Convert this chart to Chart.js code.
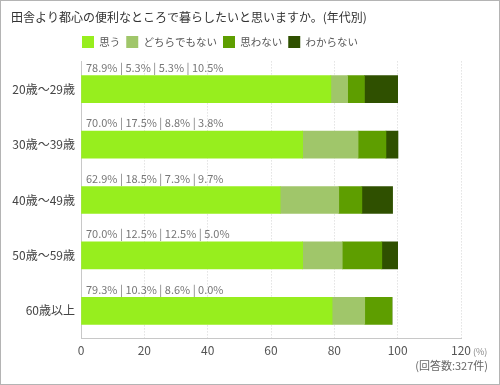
<!DOCTYPE html>
<html>
<head>
<meta charset="utf-8">
<script src="https://cdn.jsdelivr.net/npm/chart.js@4.4.0/dist/chart.umd.min.js"></script>
<style>
  html, body { margin: 0; padding: 0; background: #fff; }
</style>
</head>
<body>
<canvas id="chart" width="500" height="385"></canvas>
<script>
var categories = ['20歳〜29歳', '30歳〜39歳', '40歳〜49歳', '50歳〜59歳', '60歳以上'];
var seriesNames = ['思う', 'どちらでもない', '思わない', 'わからない'];
var omou = [78.9, 70.0, 62.9, 70.0, 79.3];
var dochira = [5.3, 17.5, 18.5, 12.5, 10.3];
var omowanai = [5.3, 8.8, 7.3, 12.5, 8.6];
var wakaranai = [10.5, 3.8, 9.7, 5.0, 0.0];
var xTicks = [0, 20, 40, 60, 80, 100, 120];

var FONT = "'Noto Sans CJK JP', 'Noto Sans', sans-serif";
var colors = ['#97ee1e', '#a0c66a', '#5e9e00', '#2f5000'];
var allSeries = [omou, dochira, omowanai, wakaranai];

// white background, outer frame and notes
var framePlugin = {
    id: 'frame',
    beforeDraw: function(chart) {
        var c = chart.ctx;
        c.save();
        c.fillStyle = '#fff';
        c.fillRect(0, 0, chart.width, chart.height);
        c.restore();
    },
    afterDraw: function(chart) {
        var c = chart.ctx;
        var x = chart.scales.x;
        c.save();
        c.strokeStyle = '#b4b4b4';
        c.lineWidth = 1;
        c.strokeRect(0.5, 0.5, chart.width - 1, chart.height - 1);
        c.fillStyle = '#888';
        c.font = '9px ' + FONT;
        c.textBaseline = 'middle';
        c.textAlign = 'left';
        c.fillText('(%)', x.right + 12, x.top + 13);
        c.fillStyle = '#666';
        c.font = '11px ' + FONT;
        c.textAlign = 'right';
        c.fillText('(回答数:327件)', 488, 366);
        c.restore();
    }
};

// percentage text above each bar
var valueLabels = {
    id: 'valueLabels',
    afterDatasetsDraw: function(chart) {
        var c = chart.ctx;
        var meta = chart.getDatasetMeta(0);
        c.save();
        c.fillStyle = '#777';
        c.font = '11px ' + FONT;
        c.textBaseline = 'middle';
        c.textAlign = 'left';
        categories.forEach(function(cat, i) {
            var bar = meta.data[i];
            var txt = allSeries.map(function(s) { return s[i].toFixed(1) + '%'; }).join(' | ');
            c.fillText(txt, chart.chartArea.left + 5, bar.y - bar.height / 2 - 8);
        });
        c.restore();
    }
};

// place title and legend like the original
var placeHeader = {
    id: 'placeHeader',
    afterLayout: function(chart) {
        var l = chart.legend;
        var dx = 82 - (l.left + 6);
        l.left += dx; l.right += dx;
        var dy = 30 - l.top;
        l.top += dy; l.bottom += dy;
        var t = chart.titleBlock;
        var ty = 17 - 7.2 - t.top;
        t.top += ty; t.bottom += ty;
    }
};

var ctx = document.getElementById('chart');

var chart = new Chart(ctx, {
    type: 'bar',
    data: {
        labels: categories,
        datasets: seriesNames.map(function(name, k) {
            return {
                label: name,
                data: allSeries[k],
                backgroundColor: colors[k],
                borderWidth: 0,
                barThickness: 27
            };
        })
    },
    plugins: [framePlugin, valueLabels, placeHeader],
    options: {
        responsive: false,
        animation: false,
        indexAxis: 'y',
        layout: {
            padding: { top: 5, left: 11, right: 39, bottom: 22 }
        },
        plugins: {
            title: {
                display: true,
                text: '田舎より都心の便利なところで暮らしたいと思いますか。(年代別)',
                align: 'start',
                color: '#333',
                font: { family: FONT, size: 12, weight: 'normal' },
                padding: { top: 0, bottom: 14 }
            },
            legend: {
                display: true,
                align: 'start',
                labels: {
                    color: '#555',
                    font: { family: FONT, size: 10.5 },
                    boxWidth: 12,
                    boxHeight: 12,
                    padding: 6
                }
            },
            tooltip: { enabled: false }
        },
        scales: {
            x: {
                stacked: true,
                min: 0,
                max: 120,
                afterBuildTicks: function(s) {
                    s.ticks = xTicks.map(function(v) { return { value: v }; });
                },
                grid: {
                    color: '#d4d4d4',
                    drawTicks: false
                },
                border: {
                    display: true,
                    color: '#c8c8c8',
                    dash: [1, 2]
                },
                ticks: {
                    color: '#555',
                    padding: 5,
                    font: { family: FONT, size: 12 }
                }
            },
            y: {
                stacked: true,
                afterFit: function(s) { s.width = 70; },
                grid: { display: false, drawTicks: false },
                border: { display: true, color: '#c8c8c8' },
                ticks: {
                    color: '#444',
                    padding: 6,
                    font: { family: FONT, size: 12 }
                }
            }
        }
    }
});
</script>
</body>
</html>
